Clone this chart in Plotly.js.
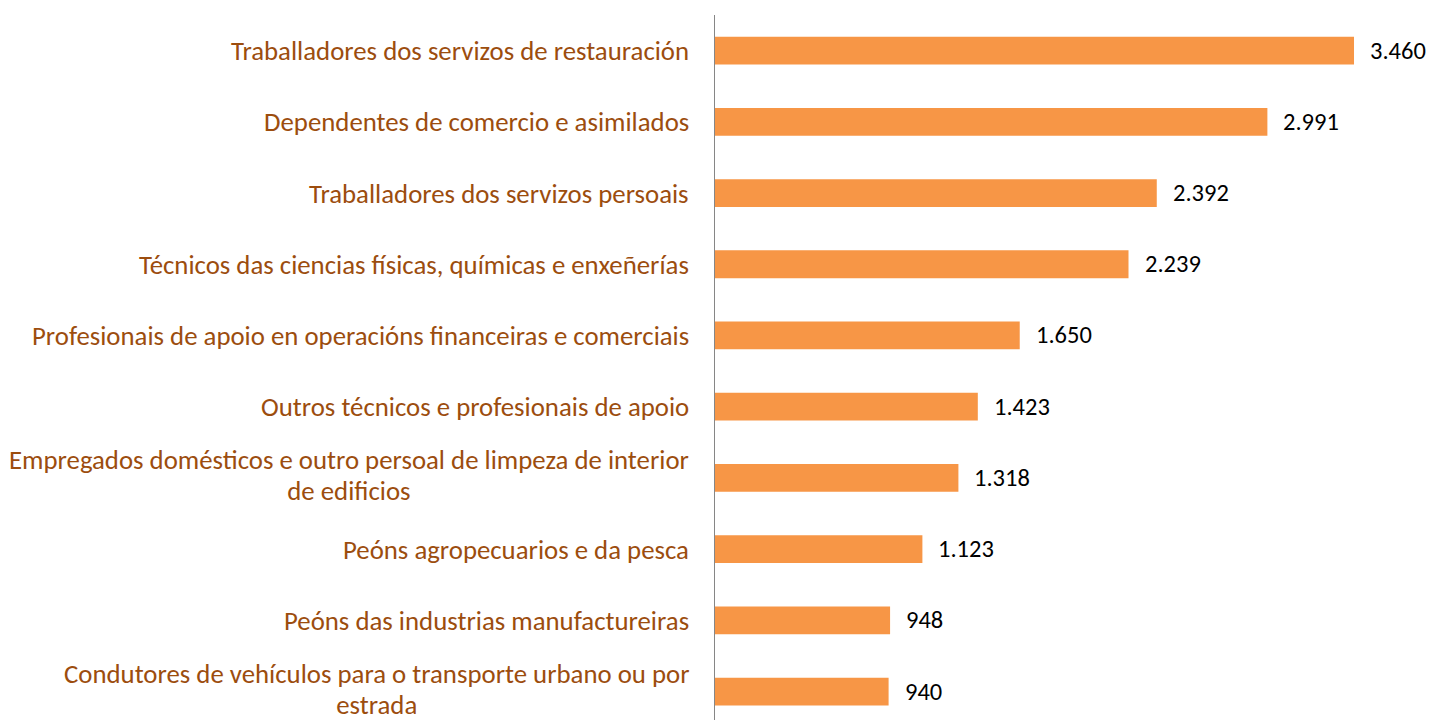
<!DOCTYPE html>
<html><head><meta charset="utf-8">
<script src="https://cdn.plot.ly/plotly-3.0.1.min.js"></script>
<style>html,body{margin:0;padding:0;background:#fff;}#chart{width:1432px;height:720px;}</style>
</head><body><div id="chart"></div>
<script>
const categories = [
  "Traballadores dos servizos de restauración",
  "Dependentes de comercio e asimilados",
  "Traballadores dos servizos persoais",
  "Técnicos das ciencias físicas, químicas e enxeñerías",
  "Profesionais de apoio en operacións financeiras e comerciais",
  "Outros técnicos e profesionais de apoio",
  "Empregados domésticos e outro persoal de limpeza de interior<br>de edificios",
  "Peóns agropecuarios e da pesca",
  "Peóns das industrias manufactureiras",
  "Condutores de vehículos para o transporte urbano ou por<br>estrada"
];
const values = [3460, 2991, 2392, 2239, 1650, 1423, 1318, 1123, 948, 940];

const FONT = "Carlito, Calibri, 'Open Sans', sans-serif";
const idx = categories.map((c, i) => i);
function fmt(v) { return String(v).replace(/\B(?=(\d{3})+(?!\d))/g, "."); }

const trace = {
  type: "bar", orientation: "h",
  x: values, y: idx,
  marker: {color: "#F79646"},
  width: 0.39,
  hoverinfo: "skip"
};

const annotations = [];
categories.forEach((c, i) => {
  annotations.push({
    xref: "paper", yref: "y", x: 0, y: i, xanchor: "right", yanchor: "middle",
    xshift: -24, text: c, showarrow: false, align: "center",
    font: {family: FONT, size: 26.8, color: "#9C4D0E"}
  });
  annotations.push({
    xref: "x", yref: "y", x: values[i], y: i, xanchor: "left", yanchor: "middle",
    xshift: 14, text: fmt(values[i]), showarrow: false,
    font: {family: FONT, size: 24.5, color: "#000000"}
  });
});

const layout = {
  width: 1432, height: 720,
  margin: {l: 715, r: 20, t: 15, b: 0},
  paper_bgcolor: "#fff", plot_bgcolor: "#fff",
  showlegend: false,
  xaxis: {range: [0, 3774], showgrid: false, zeroline: false, showticklabels: false, showline: false, ticks: ""},
  yaxis: {range: [9.4, -0.5], showgrid: false, zeroline: false, showticklabels: false, ticks: "",
          showline: true, linecolor: "#868686", linewidth: 1.3},
  annotations: annotations
};
Plotly.newPlot("chart", [trace], layout, {displayModeBar: false, staticPlot: true}).then(() => {
  // tighten line spacing of wrapped category labels
  document.querySelectorAll("#chart .annotation-text").forEach(t => {
    const lines = t.querySelectorAll("tspan.line");
    if (lines.length > 1) {
      lines.forEach((ln, k) => { if (k > 0) ln.setAttribute("dy", "1.15em"); });
      const tr = t.getAttribute("transform") || "";
      t.setAttribute("transform", tr + " translate(0,-1)");
    }
  });
});
</script></body></html>
